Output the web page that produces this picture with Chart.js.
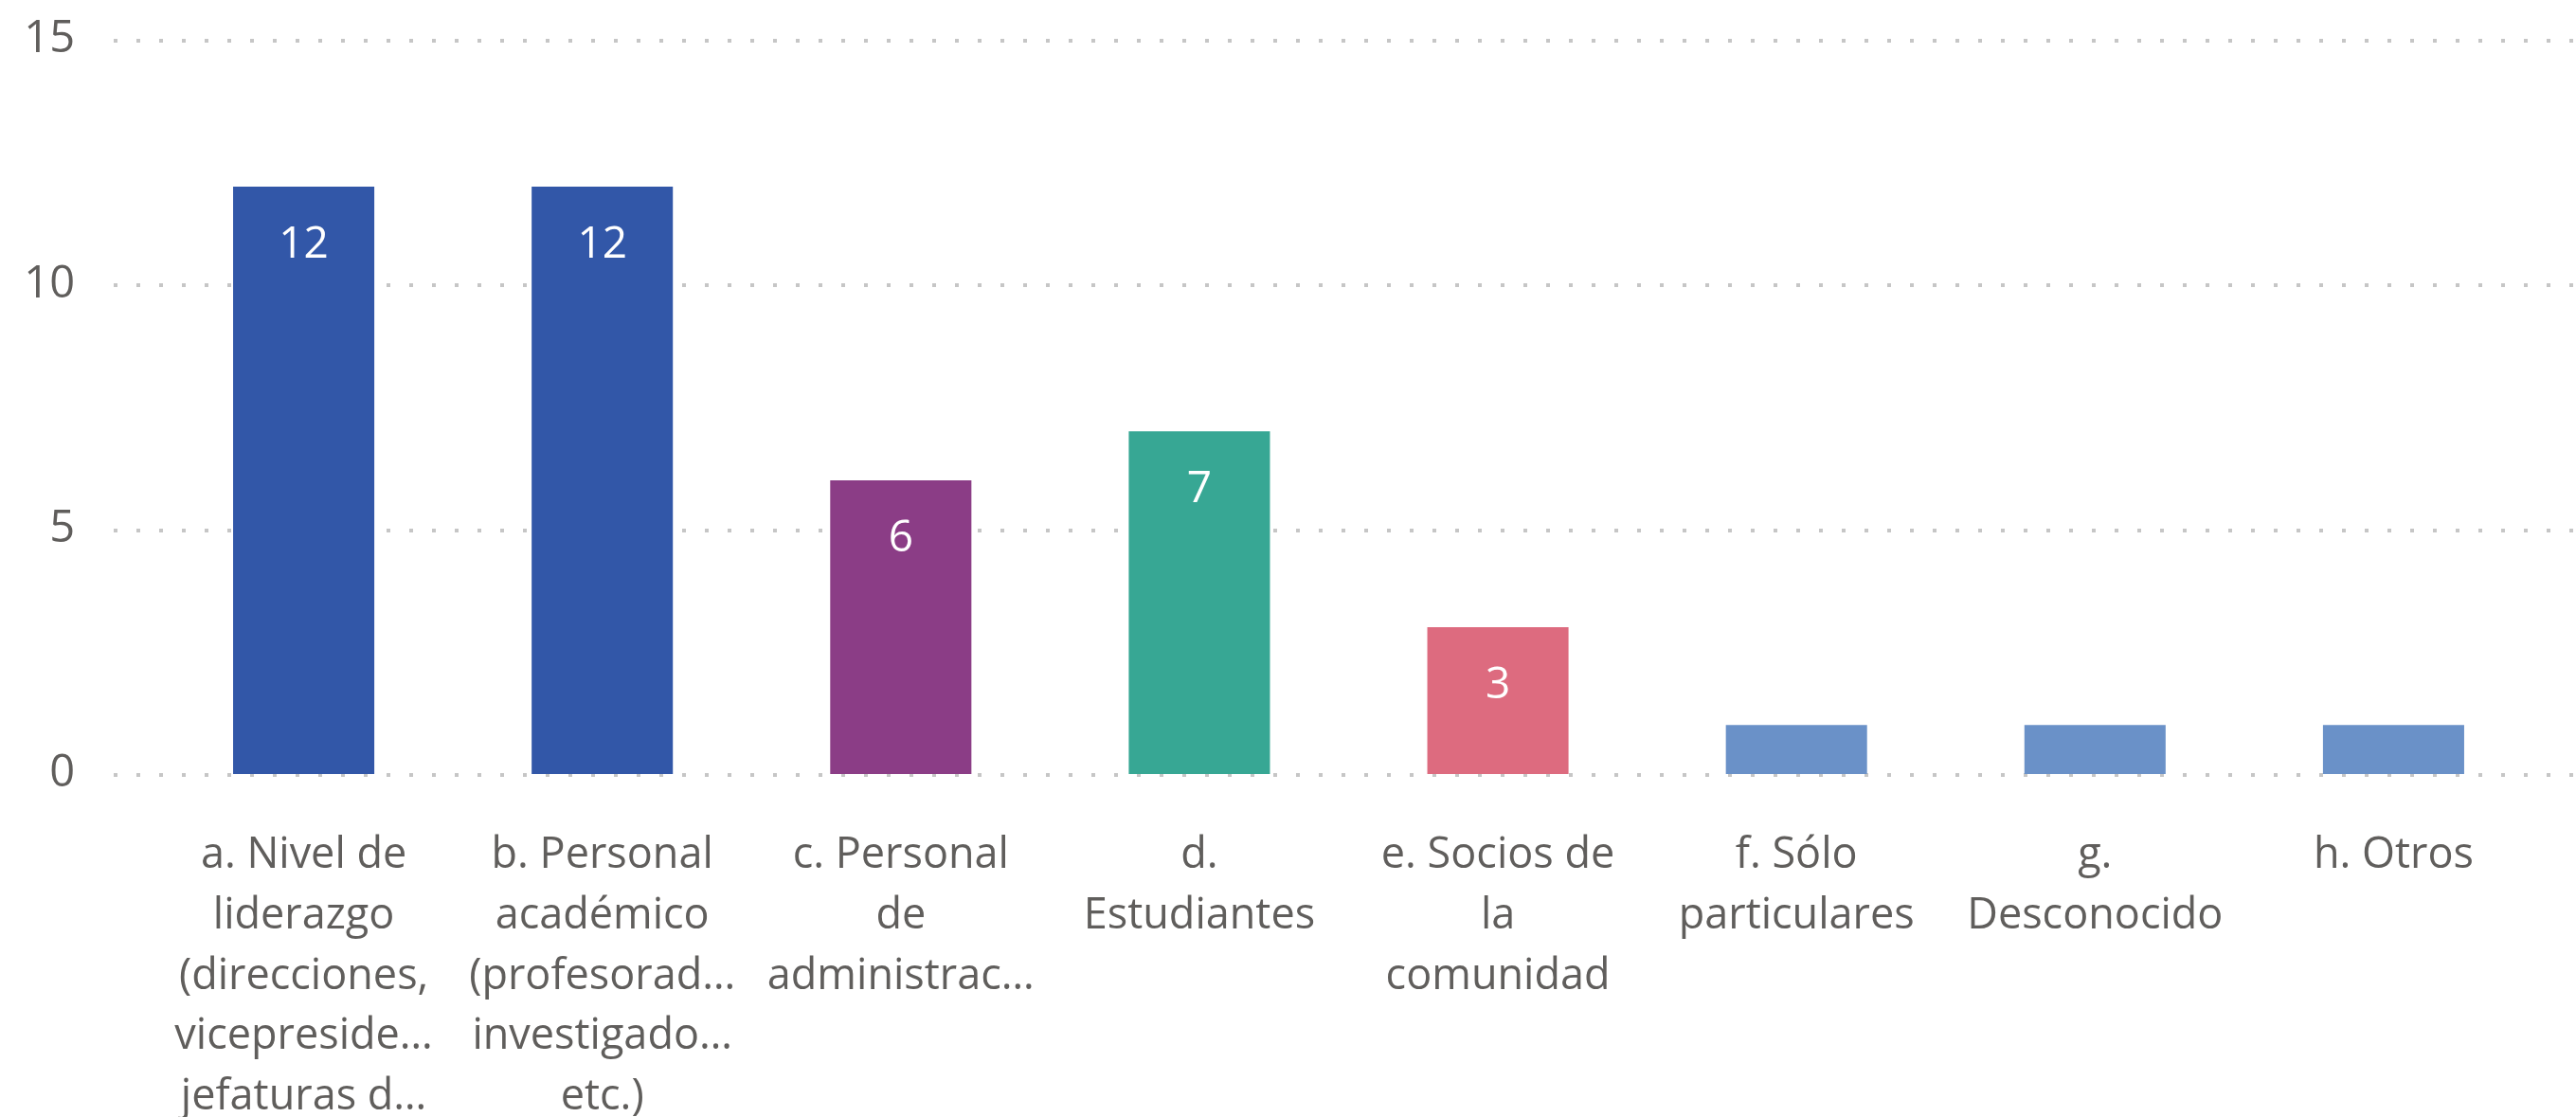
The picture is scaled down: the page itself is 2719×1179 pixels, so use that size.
<!DOCTYPE html>
<html>
<head>
<meta charset="utf-8">
<script src="https://cdn.jsdelivr.net/npm/chart.js@4.4.1/dist/chart.umd.min.js"></script>
<style>
  html, body { margin: 0; padding: 0; background: #fff; }
  #wrap { width: 2719px; height: 1179px; position: relative; }
</style>
</head>
<body>
<div id="wrap"><canvas id="chart"></canvas></div>
<script>
// categorías (ya cortadas en líneas como en el original)
const categories = [
  ['a. Nivel de', 'liderazgo', '(direcciones,', 'vicepreside…', 'jefaturas d…'],
  ['b. Personal', 'académico', '(profesorad…', 'investigado…', 'etc.)'],
  ['c. Personal', 'de', 'administrac…'],
  ['d.', 'Estudiantes'],
  ['e. Socios de', 'la', 'comunidad'],
  ['f. Sólo', 'particulares'],
  ['g.', 'Desconocido'],
  ['h. Otros']
];
const values = [12, 12, 6, 7, 3, 1, 1, 1];
const barColors = ['#3257A8', '#3257A8', '#8B3D86', '#37A794', '#DD6B7F', '#6A91C8', '#6A91C8', '#6A91C8'];
const yTicks = [0, 5, 10, 15];

const FONT = "'Segoe UI', 'Open Sans', 'Noto Sans', sans-serif";
const TEXT_GRAY = '#605E5C';

// líneas punteadas horizontales (más anchas que el área del gráfico)
const dottedGrid = {
  id: 'dottedGrid',
  beforeDatasetsDraw(chart) {
    const ctx = chart.ctx;
    const y = chart.scales.y;
    ctx.save();
    ctx.strokeStyle = '#C6C6C6';
    ctx.lineWidth = 4;
    ctx.setLineDash([4, 20]);
    yTicks.forEach(v => {
      const py = Math.round(y.getPixelForValue(v)) + 1;
      ctx.beginPath();
      ctx.moveTo(120, py);
      ctx.lineTo(chart.width, py);
      ctx.stroke();
    });
    ctx.restore();
  }
};

// etiquetas de valor dentro de la barra
const valueLabels = {
  id: 'valueLabels',
  afterDatasetsDraw(chart) {
    const ctx = chart.ctx;
    const meta = chart.getDatasetMeta(0);
    ctx.save();
    ctx.fillStyle = '#FFFFFF';
    ctx.font = '46px ' + FONT;
    ctx.textAlign = 'center';
    ctx.textBaseline = 'middle';
    meta.data.forEach((bar, i) => {
      const h = bar.base - bar.y;
      if (h < 100) return;
      ctx.fillText(String(values[i]), bar.x, bar.y + 62);
    });
    ctx.restore();
  }
};

const ctx = document.getElementById('chart').getContext('2d');
new Chart(ctx, {
  type: 'bar',
  data: {
    labels: categories,
    datasets: [{
      data: values,
      backgroundColor: barColors,
      borderWidth: 0,
      categoryPercentage: 1,
      barPercentage: 0.473
    }]
  },
  options: {
    responsive: true,
    maintainAspectRatio: false,
    animation: false,
    layout: {
      padding: { top: 42, right: 35, left: 0, bottom: 0 }
    },
    plugins: {
      legend: { display: false },
      tooltip: { enabled: false }
    },
    scales: {
      x: {
        grid: { display: false },
        border: { display: false },
        ticks: {
          color: TEXT_GRAY,
          font: { family: FONT, size: 45, lineHeight: 1.42 },
          padding: 46,
          maxRotation: 0,
          autoSkip: false
        },
        afterFit(scale) {
          scale.height = 362;
          scale.paddingLeft = 0;
          scale.paddingRight = 0;
        }
      },
      y: {
        min: 0,
        max: 15,
        grid: { display: false, drawTicks: false },
        border: { display: false },
        ticks: {
          stepSize: 5,
          color: TEXT_GRAY,
          font: { family: FONT, size: 47 },
          padding: 84
        },
        afterFit(scale) {
          scale.width = 163;
          scale.paddingTop = 0;
          scale.paddingBottom = 0;
        }
      }
    }
  },
  plugins: [dottedGrid, valueLabels]
});
</script>
</body>
</html>
